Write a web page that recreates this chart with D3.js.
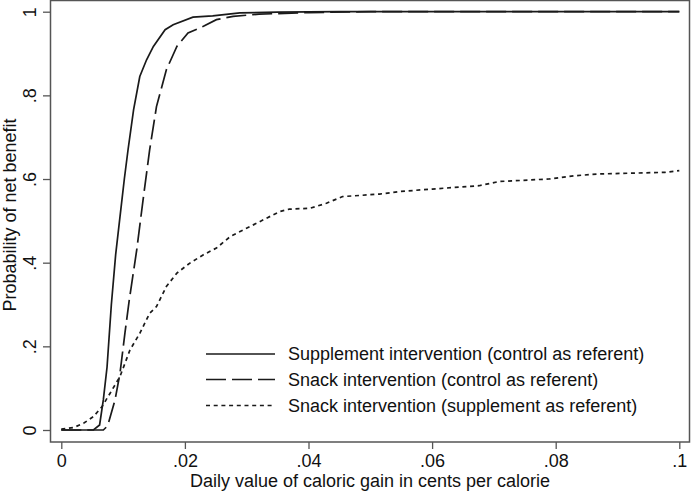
<!DOCTYPE html>
<html><head><meta charset="utf-8">
<script src="https://cdn.jsdelivr.net/npm/d3@7"></script>
<style>body{margin:0;background:#fff}svg{display:block}text{font-family:"Liberation Sans",Arial,sans-serif;fill:#111}</style>
</head><body>
<script>
const xTicks = [0, 0.02, 0.04, 0.06, 0.08, 0.1];
const xTickLabels = ["0", ".02", ".04", ".06", ".08", ".1"];
const yTicks = [0, 0.2, 0.4, 0.6, 0.8, 1];
const yTickLabels = ["0", ".2", ".4", ".6", ".8", "1"];
const seriesNames = ["Supplement intervention (control as referent)", "Snack intervention (control as referent)", "Snack intervention (supplement as referent)"];
const supplementVsControl = [[0,0],[0.0052,0],[0.0062,0.012],[0.0068,0.072],[0.0074,0.15],[0.0081,0.30],[0.0088,0.42],[0.0095,0.51],[0.0102,0.60],[0.0108,0.67],[0.0117,0.766],[0.0127,0.845],[0.0138,0.885],[0.0149,0.917],[0.0168,0.957],[0.0181,0.969],[0.0213,0.987],[0.0245,0.990],[0.0289,0.997],[0.035,0.999],[0.045,1],[0.1,1]];
const snackVsControl = [[0,0],[0.0068,0],[0.0075,0.01],[0.0087,0.072],[0.0095,0.136],[0.0103,0.232],[0.011,0.311],[0.0122,0.43],[0.0133,0.558],[0.0143,0.67],[0.0154,0.773],[0.017,0.861],[0.0187,0.917],[0.0205,0.949],[0.023,0.965],[0.0251,0.981],[0.0278,0.989],[0.032,0.994],[0.04,0.998],[0.05,1],[0.1,1]];
const snackVsSupplement = [[0,0.002],[0.002,0.006],[0.0036,0.016],[0.0052,0.032],[0.0066,0.056],[0.0079,0.088],[0.0095,0.128],[0.0111,0.191],[0.0127,0.231],[0.0143,0.279],[0.0154,0.295],[0.017,0.343],[0.0187,0.375],[0.0208,0.399],[0.023,0.419],[0.0251,0.435],[0.0273,0.462],[0.0294,0.478],[0.0321,0.498],[0.0353,0.522],[0.0369,0.528],[0.0402,0.530],[0.0429,0.542],[0.0455,0.558],[0.0515,0.564],[0.0547,0.570],[0.060,0.576],[0.0676,0.584],[0.0708,0.594],[0.0789,0.600],[0.0832,0.608],[0.0869,0.612],[0.0977,0.616],[0.1,0.620]];

const W = 692, H = 492;
const svg = d3.select("body").append("svg").attr("width", W).attr("height", H);
const x = d3.scaleLinear().domain([0, 0.1]).range([61.3, 679.3]);
const y = d3.scaleLinear().domain([0, 1]).range([430, 11.7]);
const fs = 18;

// frame
svg.append("rect").attr("x", 50.5).attr("y", 0.5).attr("width", 639).attr("height", 441.5)
  .attr("fill", "none").attr("stroke", "#555").attr("stroke-width", 1.5);

// x axis
const xa = svg.append("g").attr("transform", "translate(0,442)")
  .call(d3.axisBottom(x).tickValues(xTicks).tickFormat((d, i) => xTickLabels[i]).tickSize(7).tickPadding(5));
xa.select(".domain").remove();
xa.selectAll("line").attr("stroke", "#555").attr("stroke-width", 1.3);
xa.selectAll("text").style("font-size", fs + "px").attr("fill", "#111")
  .attr("y", 25).attr("dy", 0);

// y axis
const ya = svg.append("g").attr("transform", "translate(50,0)")
  .call(d3.axisLeft(y).tickValues(yTicks).tickFormat((d, i) => yTickLabels[i]).tickSize(7).tickPadding(0));
ya.select(".domain").remove();
ya.selectAll("line").attr("stroke", "#555").attr("stroke-width", 1.3);
ya.selectAll("text").style("font-size", fs + "px").attr("fill", "#111")
  .attr("x", 0).attr("dy", 0).attr("text-anchor", "middle")
  .attr("transform", "translate(-14,0) rotate(-90)");

// axis titles
svg.append("text").attr("x", 370).attr("y", 487).attr("text-anchor", "middle")
  .style("font-size", fs + "px").text("Daily value of caloric gain in cents per calorie");
svg.append("text").attr("transform", "translate(15.5,215) rotate(-90)").attr("text-anchor", "middle")
  .style("font-size", fs + "px").text("Probability of net benefit");

const line = d3.line().x(d => x(d[0])).y(d => y(d[1]));
const styles = [
  {data: supplementVsControl, dash: null},
  {data: snackVsControl, dash: "20,6"},
  {data: snackVsSupplement, dash: "4,3.7"}
];
styles.forEach(s => {
  svg.append("path").datum(s.data).attr("d", line).attr("fill", "none")
    .attr("stroke", "#1a1a1a").attr("stroke-width", 1.7)
    .attr("stroke-dasharray", s.dash);
});

// legend
const ly = [354, 379.5, 405.5];
seriesNames.forEach((name, i) => {
  svg.append("line").attr("x1", 206).attr("x2", 275).attr("y1", ly[i]).attr("y2", ly[i])
    .attr("stroke", "#1a1a1a").attr("stroke-width", 1.7).attr("stroke-dasharray", styles[i].dash);
  svg.append("text").attr("x", 288).attr("y", ly[i]).attr("dy", "0.36em")
    .style("font-size", fs + "px").text(name);
});
</script>
</body></html>
